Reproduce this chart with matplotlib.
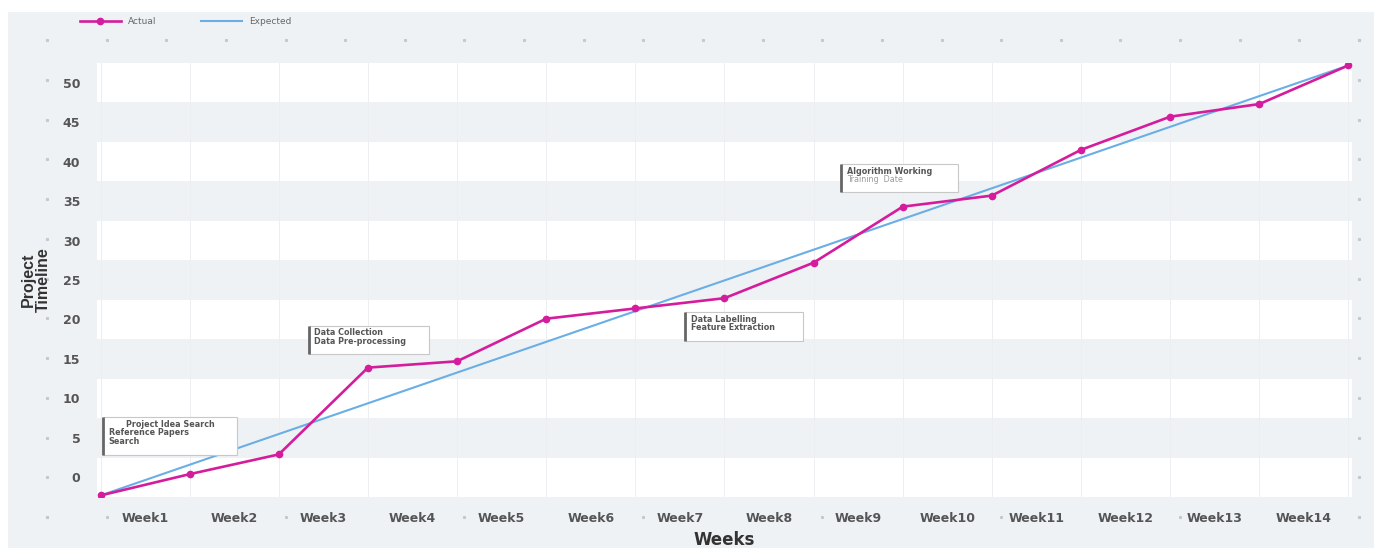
import numpy as np
import matplotlib.pyplot as plt
from matplotlib.patches import Rectangle

# values
weeks = ['Week%d' % i for i in range(1, 15)]
actual = [-2.3, 0.4, 2.9, 13.9, 14.7, 20.1, 21.4, 22.7, 27.2, 34.3, 35.7, 41.5, 45.7, 47.3, 52.2]
expected_x = [0, 14]
expected_y = [-2.3, 52.2]
y_ticks = [0, 5, 10, 15, 20, 25, 30, 35, 40, 45, 50]

# notes: (x, y top, lines)
notes = [
    (0.03, 7.6, ['Project Idea Search', 'Reference Papers', 'Search']),
    (2.34, 19.2, ['Data Collection', 'Data Pre-processing']),
    (6.56, 20.9, ['Data Labelling', 'Feature Extraction']),
    (8.31, 39.7, ['Algorithm Working', 'Training  Date']),
]
note_w = [1.5, 1.34, 1.32, 1.31]

MAGENTA = '#d41c9c'
BLUE = '#6aaee6'
PANEL = '#eff2f5'
TXT = '#555555'

fig = plt.figure(figsize=(13.81, 5.48), dpi=100)

# background panel and the small dots around it
deco = fig.add_axes([0, 0, 1, 1], zorder=-1)
deco.set_xlim(0, 1381)
deco.set_ylim(548, 0)
deco.axis('off')
deco.add_patch(Rectangle((8, 12), 1366, 540, color=PANEL, lw=0))
top_x = np.linspace(47, 1359, 23)
deco.plot(top_x, np.full(len(top_x), 40), 's', ms=1.2, color='#c3c8ce')
bot_x = np.concatenate([[47], top_x[1::3]])
deco.plot(bot_x, np.full(len(bot_x), 517), 's', ms=1.2, color='#c3c8ce')
side_y = np.linspace(40, 517, 13)
deco.plot(np.full(len(side_y) - 1, 47), side_y[1:], 's', ms=1.2, color='#c3c8ce')
deco.plot(np.full(len(side_y), 1359), side_y, 's', ms=1.2, color='#c3c8ce')

ax = fig.add_axes([0.0702, 0.093, 0.9088, 0.792])
ax.set_facecolor('white')
for i, t in enumerate(y_ticks):
    if i % 2 == 1:
        ax.axhspan(t - 2.5, t + 2.5, color=PANEL, lw=0, zorder=0)
for k in range(15):
    ax.axvline(k, color='#eceef1', lw=0.7, zorder=0.5)

ax.plot(expected_x, expected_y, color=BLUE, lw=1.5, label='Expected', zorder=3)
ax.plot(range(len(actual)), actual, color=MAGENTA, lw=1.9, marker='o', ms=4.5,
        label='Actual', zorder=4)

for (x, y, lines), w in zip(notes, note_w):
    h = 1.15 * len(lines) + 1.3
    ax.add_patch(Rectangle((x, y - h), w, h, fc='white', ec='#c8c8c8', lw=0.8, zorder=5))
    ax.plot([x, x], [y - h, y], color='#666666', lw=2, zorder=6, solid_capstyle='butt')
    for j, line in enumerate(lines):
        ty = y - 0.9 - j * 1.05
        if j == 0 and len(lines) == 3:
            ax.text(x + w * 0.5, ty, line, ha='center', va='center', fontsize=5.8,
                    fontweight='bold', color=TXT, zorder=7)
        else:
            light = (j == 1 and lines[0] == 'Algorithm Working')
            ax.text(x + 0.06, ty, line, ha='left', va='center', fontsize=5.8,
                    fontweight='normal' if light else 'bold',
                    color='#9a9a9a' if light else TXT, zorder=7)

ax.set_xlim(-0.04, 14.04)
ax.set_ylim(-2.5, 52.5)
ax.set_yticks(y_ticks)
ax.set_xticks(np.arange(14) + 0.5)
ax.set_xticklabels(weeks)
ax.tick_params(length=0, labelsize=9, labelcolor=TXT)
ax.tick_params(axis='y', pad=12)
ax.tick_params(axis='x', pad=11)
for lab in ax.get_xticklabels() + ax.get_yticklabels():
    lab.set_fontweight('bold')
for s in ax.spines.values():
    s.set_visible(False)

ax.set_xlabel('Weeks', fontsize=12, fontweight='bold', color='#333333', labelpad=4)
fig.text(0.026, 0.49, 'Project\nTimeline', rotation=90, ha='center', va='center',
         fontsize=11.5, fontweight='bold', color='#333333', family='Liberation Sans',
         linespacing=1.0)

h, l = ax.get_legend_handles_labels()
fig.legend(h[::-1], l[::-1], loc='center left', bbox_to_anchor=(0.052, 0.96), ncol=2,
           frameon=False, fontsize=6.5, handlelength=4.5, columnspacing=5,
           labelcolor='#666666')

fig.savefig('out.png', dpi=100)
